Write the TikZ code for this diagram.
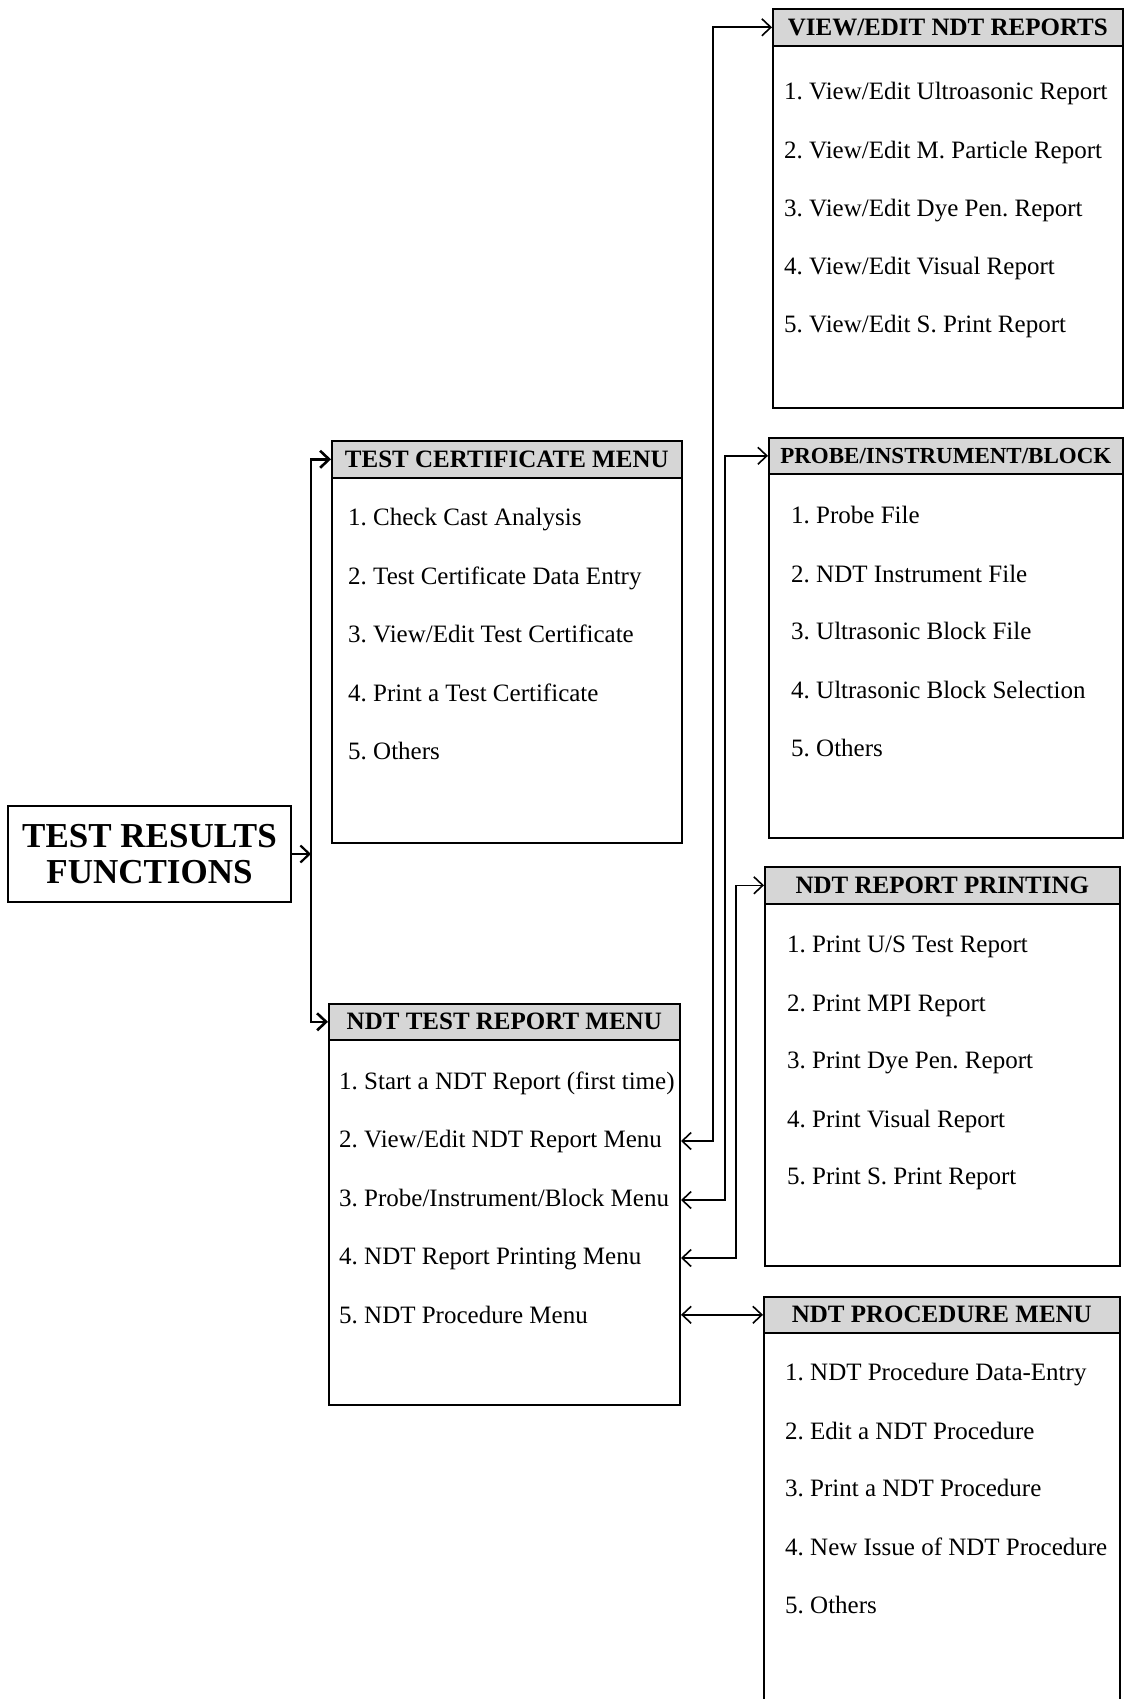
\documentclass[tikz,border=0pt]{standalone}
\usepackage{fontspec}
\setmainfont{Liberation Serif}
\usetikzlibrary{arrows.meta,positioning}
\frenchspacing

\begin{document}
\begin{tikzpicture}[x=1pt,y=-1pt,>={Straight Barb[length=9pt,width=17pt]},
				menubox/.style={draw, line width=2pt, anchor=north west, inner sep=0pt}
				,headbox/.style={draw, line width=1.6pt, fill=black!16, anchor=north west, inner sep=0pt, minimum height=37pt, font=\bfseries\fontsize{25}{30}\selectfont}
				,item/.style={anchor=west, inner sep=0pt, text height=18pt, text depth=5pt, font=\fontsize{25}{30}\selectfont}
				,link/.style={line width=1.6pt}
				]
				\useasboundingbox (0,0) rectangle (1124,1699);

				\node[draw, line width=2.2pt, minimum width=283pt, minimum height=96pt, inner sep=0pt, align=center, font=\bfseries\fontsize{35}{36}\selectfont] (main) at (149.5,854) {TEST RESULTS\\FUNCTIONS};

				\node[menubox, minimum width=350pt, minimum height=402pt] (tcm) at (331,440) {};
				\node[headbox, minimum width=350pt] (tcmh) at (331,440) {TEST CERTIFICATE MENU};
				\node[item] (tcm1) at (348,519) {1. Check Cast Analysis};
				\node[item] (tcm2) at (348,578) {2. Test Certificate Data Entry};
				\node[item] (tcm3) at (348,636) {3. View/Edit Test Certificate};
				\node[item] (tcm4) at (348,695) {4. Print a Test Certificate};
				\node[item] (tcm5) at (348,753) {5. Others};

				\node[menubox, minimum width=351pt, minimum height=401pt] (ndt) at (328,1003) {};
				\node[headbox, minimum width=351pt, minimum height=36pt] (ndth) at (328,1003) {NDT TEST REPORT MENU};
				\node[item] (ndt1) at (339,1083) {1. Start a NDT Report (first time)};
				\node[item] (ndt2) at (339,1141) {2. View/Edit NDT Report Menu};
				\node[item] (ndt3) at (339,1200) {3. Probe/Instrument/Block Menu};
				\node[item] (ndt4) at (339,1258) {4. NDT Report Printing Menu};
				\node[item] (ndt5) at (339,1317) {5. NDT Procedure Menu};

				\node[menubox, minimum width=350pt, minimum height=399pt] (ve) at (772,8) {};
				\node[headbox, minimum width=350pt] (veh) at (772,8) {VIEW/EDIT NDT REPORTS};
				\node[item] (ve1) at (784,93) {1. View/Edit Ultroasonic Report};
				\node[item] (ve2) at (784,152) {2. View/Edit M. Particle Report};
				\node[item] (ve3) at (784,210) {3. View/Edit Dye Pen. Report};
				\node[item] (ve4) at (784,268) {4. View/Edit Visual Report};
				\node[item] (ve5) at (784,326) {5. View/Edit S. Print Report};

				\node[menubox, minimum width=354pt, minimum height=400pt] (pib) at (768,437) {};
				\node[headbox, minimum width=354pt, minimum height=36pt, font=\bfseries\fontsize{23}{28}\selectfont] (pibh) at (768,437) {PROBE/INSTRUMENT/BLOCK};
				\node[item] (pib1) at (791,517) {1. Probe File};
				\node[item] (pib2) at (791,576) {2. NDT Instrument File};
				\node[item] (pib3) at (791,633) {3. Ultrasonic Block File};
				\node[item] (pib4) at (791,692) {4. Ultrasonic Block Selection};
				\node[item] (pib5) at (791,750) {5. Others};

				\node[menubox, minimum width=355pt, minimum height=399pt] (prn) at (764,866) {};
				\node[headbox, minimum width=355pt] (prnh) at (764,866) {NDT REPORT PRINTING};
				\node[item] (prn1) at (787,946) {1. Print U/S Test Report};
				\node[item] (prn2) at (787,1005) {2. Print MPI Report};
				\node[item] (prn3) at (787,1062) {3. Print Dye Pen. Report};
				\node[item] (prn4) at (787,1121) {4. Print Visual Report};
				\node[item] (prn5) at (787,1178) {5. Print S. Print Report};

				\node[menubox, minimum width=356pt, minimum height=403pt] (prc) at (763,1296) {};
				\node[headbox, minimum width=356pt, minimum height=36pt] (prch) at (763,1296) {NDT PROCEDURE MENU};
				\node[item] (prc1) at (785,1374) {1. NDT Procedure Data-Entry};
				\node[item] (prc2) at (785,1433) {2. Edit a NDT Procedure};
				\node[item] (prc3) at (785,1490) {3. Print a NDT Procedure};
				\node[item] (prc4) at (785,1549) {4. New Issue of NDT Procedure};
				\node[item] (prc5) at (785,1607) {5. Others};

				\coordinate (trunk) at (311,854);
				\coordinate (vx) at (713,600);
				\coordinate (px) at (725,800);
				\coordinate (rx) at (736,1000);

				\draw[line width=2.2pt,->] (main) -- (trunk);
				\draw[line width=2.6pt,->] (trunk) |- (tcmh.west);
				\draw[line width=2.6pt,->] (trunk) |- (ndth.west);
				\draw[link,<->] (ndt.east |- ndt2) -| (vx) |- (veh.west);
				\draw[link,<->] (ndt.east |- ndt3) -| (px) |- (pibh.west);
				\draw[link,<->] (ndt.east |- ndt4) -| (rx) |- (prnh.west);
				\draw[link,<->] (ndt.east |- prch.west) -- (prch.west);
			\end{tikzpicture}
\end{document}
